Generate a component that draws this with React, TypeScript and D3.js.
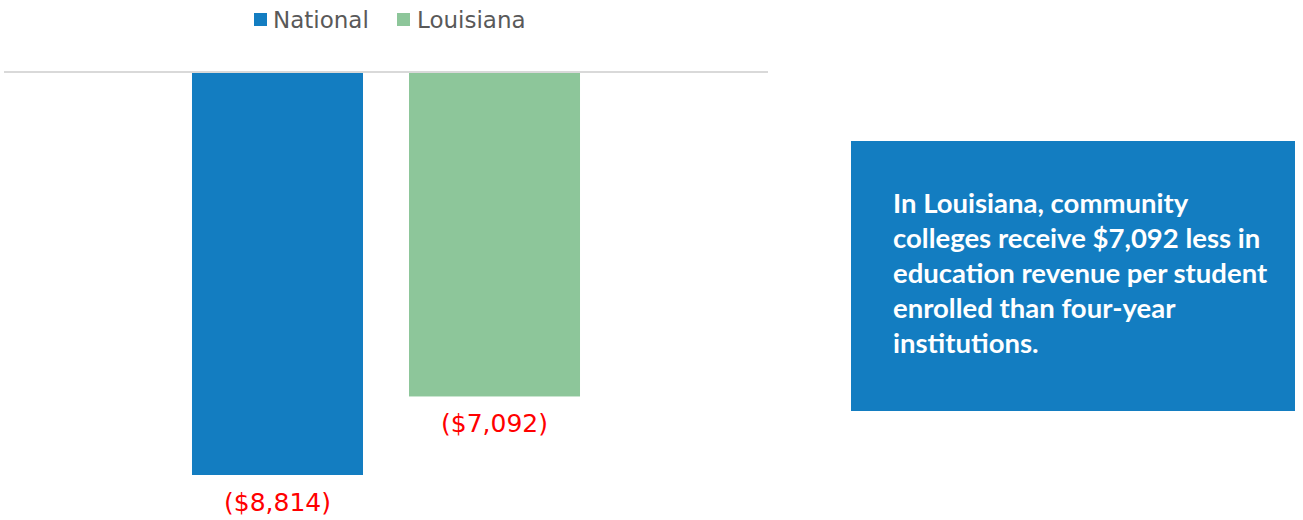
import * as d3 from "d3"

const categories = ["Education revenue gap"]
const seriesNames = ["National", "Louisiana"]
const seriesValues = [-8814, -7092]
const valueLabels = ["($8,814)", "($7,092)"]
const colors = ["#137dc1", "#8dc69a"]
const noteLines = [
  "In Louisiana, community",
  "colleges receive $7,092 less in",
  "education revenue per student",
  "enrolled than four-year",
  "institutions.",
]

const WIDTH = 1303
const HEIGHT = 520
const PLOT = { left: 4, right: 768, top: 73, bottom: 475 }

export default function App() {
  const x0 = d3.scaleBand().domain(categories).range([PLOT.left, PLOT.right]).paddingInner(0).paddingOuter(0.4845)
  const x1 = d3.scaleBand().domain(seriesNames).range([0, x0.bandwidth()]).paddingInner(0.212)
  const y = d3.scaleLinear().domain([0, d3.min(seriesValues) as number]).range([PLOT.top, PLOT.bottom])

  return (
    <svg width={WIDTH} height={HEIGHT} style={{ position: "absolute", left: 0, top: 0 }}>
      {/* legend */}
      <g fontFamily="'DejaVu Sans', Verdana, sans-serif" fontSize={23} fill="#595959">
        <rect x={254} y={13} width={13} height={13} fill={colors[0]} />
        <text x={273} y={28}>{seriesNames[0]}</text>
        <rect x={397} y={13} width={13} height={13} fill={colors[1]} />
        <text x={417} y={28}>{seriesNames[1]}</text>
      </g>

      {categories.map((c) => (
        <g key={c} transform={`translate(${x0(c)},0)`}>
          {seriesNames.map((s, i) => (
            <g key={s}>
              <rect
                x={x1(s)}
                y={y(0)}
                width={x1.bandwidth()}
                height={y(seriesValues[i]) - y(0)}
                fill={colors[i]}
              />
              <text
                x={(x1(s) as number) + x1.bandwidth() / 2}
                y={y(seriesValues[i]) + 36}
                textAnchor="middle"
                fontFamily="'DejaVu Sans', Verdana, sans-serif"
                fontSize={25}
                fill="#ff0000"
              >
                {valueLabels[i]}
              </text>
            </g>
          ))}
        </g>
      ))}

      {/* zero axis */}
      <line x1={PLOT.left} x2={PLOT.right} y1={y(0) - 1} y2={y(0) - 1} stroke="#d9d9d9" strokeWidth={2} />

      {/* callout */}
      <rect x={851} y={141} width={444} height={270} fill="#137dc1" />
      <text fontFamily="Lato, 'Open Sans', sans-serif" fontWeight={700} fontSize={27.5} fill="#ffffff">
        {noteLines.map((l, i) => (
          <tspan key={i} x={893} y={213 + i * 35}>
            {l}
          </tspan>
        ))}
      </text>
    </svg>
  )
}
